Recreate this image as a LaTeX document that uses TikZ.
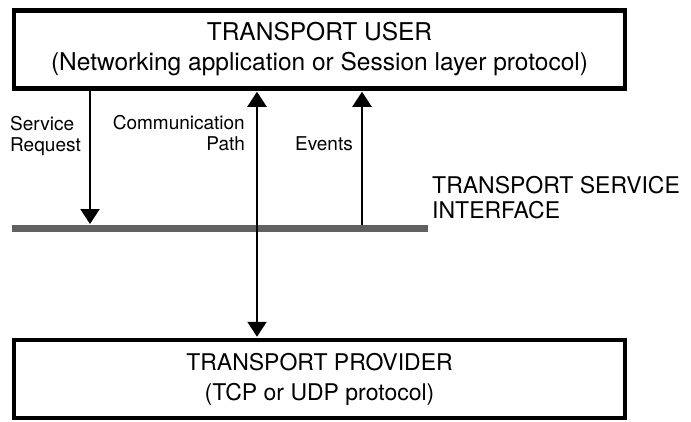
\documentclass[tikz,border=0pt]{standalone}
\usepackage{fontspec}
\setmainfont{TeX Gyre Heros}
\usepackage{tikz}
\usetikzlibrary{arrows.meta,positioning}
\tikzset{
    % standard arrow tip
    >={Triangle[length=15pt,width=19pt]},
    % boxes for the two layers
    layerbox/.style={
           rectangle,
           draw=black, line width=4.5pt,
           minimum width=611pt,
           minimum height=78pt,
           align=center,
           font=\fontsize{24.5}{30}\selectfont},
    % arrow style
    pil/.style={
           line width=2.2pt,
           shorten >=1pt},
    % labels beside the arrows
    lbl/.style={inner sep=0pt, font=\fontsize{19}{21}\selectfont},
    % the interface line
    iface/.style={line width=7pt, draw=black!62}
}

\begin{document}
\begin{tikzpicture}[x=1pt,y=-1pt]
  \useasboundingbox (0,0) rectangle (691,421);
  \node[layerbox] (user) at (319.5,49.5)
    {TRANSPORT USER\\(Networking application or Session layer protocol)};
  \node[layerbox, font=\fontsize{23}{30}\selectfont] (provider) at (319.5,379)
    {TRANSPORT PROVIDER\\(TCP or UDP protocol)};
  % interface
  \coordinate (barL) at (12,228.5);
  \coordinate (barR) at (428,228.5);
  \draw[iface] (barL) -- (barR);
  \node[lbl, anchor=base west, align=left, font=\fontsize{23}{25}\selectfont]
    (ifacelabel) at (432,218) {TRANSPORT SERVICE\\INTERFACE};
  % arrows
  \coordinate (sreq) at (90,225);
  \coordinate (comm) at (257,0);
  \coordinate (evts) at (362,225);
  \draw[pil,->] (sreq |- user.south) -- (sreq);
  \draw[pil,<->,shorten <=1pt] (comm |- user.south) -- (comm |- provider.north);
  \draw[pil,->] (evts) -- (evts |- user.south);
  % labels
  \node[lbl, anchor=base west, align=left] (sreqlabel) at (10,151) {Service\\Request};
  \node[lbl, anchor=base east, align=right] (commlabel) at (245,150) {Communication\\Path};
  \node[lbl, anchor=base east] (evtslabel) at (353,150) {Events};
\end{tikzpicture}
\end{document}
